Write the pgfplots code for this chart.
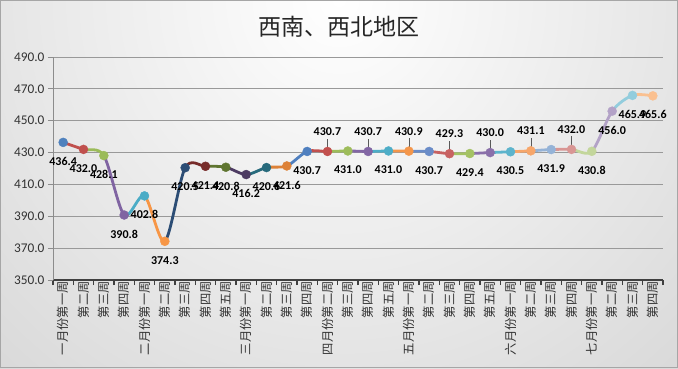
\documentclass[border=0pt]{standalone}
\usepackage{pgfplots}
\pgfplotsset{compat=1.18}
\usepackage{pgfplotstable}
\usepackage{fontspec}
\setmainfont{Carlito}
\newfontfamily\cjk{Noto Sans CJK SC}

\definecolor{c1}{HTML}{4F81BD}
\definecolor{c2}{HTML}{C0504D}
\definecolor{c3}{HTML}{9BBB59}
\definecolor{c4}{HTML}{8064A2}
\definecolor{c5}{HTML}{4BACC6}
\definecolor{c6}{HTML}{F79646}
\definecolor{c7}{HTML}{2C4D75}
\definecolor{c8}{HTML}{772C2A}
\definecolor{c9}{HTML}{5F7530}
\definecolor{c10}{HTML}{4D3B62}
\definecolor{c11}{HTML}{276A7C}
\definecolor{c12}{HTML}{DD8238}
\definecolor{c13}{HTML}{4F7FBF}
\definecolor{c14}{HTML}{C2504E}
\definecolor{c15}{HTML}{9DBC5A}
\definecolor{c16}{HTML}{8266A4}
\definecolor{c17}{HTML}{4DADC7}
\definecolor{c18}{HTML}{F4964A}
\definecolor{c19}{HTML}{6A8CC8}
\definecolor{c20}{HTML}{C86262}
\definecolor{c21}{HTML}{A4C264}
\definecolor{c22}{HTML}{8A70AA}
\definecolor{c23}{HTML}{5DB4CC}
\definecolor{c24}{HTML}{F7A66A}
\definecolor{c25}{HTML}{95B3D7}
\definecolor{c26}{HTML}{D99694}
\definecolor{c27}{HTML}{C3D69B}
\definecolor{c28}{HTML}{B3A2C7}
\definecolor{c29}{HTML}{93CDDD}
\definecolor{c30}{HTML}{FAC090}
\definecolor{bgout}{RGB}{195,195,195}

\pgfplotstableread{
x y
1 436.4
2 432.0
3 428.1
4 390.8
5 402.8
6 374.3
7 420.5
8 421.4
9 420.8
10 416.2
11 420.6
12 421.6
13 430.7
14 430.7
15 431.0
16 430.7
17 431.0
18 430.9
19 430.7
20 429.3
21 429.4
22 430.0
23 430.5
24 431.1
25 431.9
26 432.0
27 430.8
28 456.0
29 465.9
30 465.6
}\datatable

\newcommand{\seg}[3]{%
  \begin{scope}
    \clip (axis cs:#1,300) rectangle (axis cs:#2,520);
    \addplot[draw=#3, line width=2.8pt, smooth, mark=none] table[x=x,y=y] {\datatable};
  \end{scope}}
\newcommand{\mk}[3]{%
  \addplot[only marks, mark=*, mark size=4.5pt, color=#3, mark options={draw=#3, fill=#3}] coordinates {(#1,#2)};}

\begin{document}
\begin{tikzpicture}
\useasboundingbox (0,0) rectangle (678pt,368pt);
\begin{scope}
  \clip (0,0) rectangle (678pt,368pt);
  \fill[bgout] (0,0) rectangle (678pt,368pt);
  \shade[inner color=white, outer color=bgout] (339pt,368pt) circle (800pt);
\end{scope}
\draw[gray!70, line width=0.8pt] (0.4pt,0.4pt) rectangle (677.6pt,367.6pt);
\node[font=\cjk\fontsize{23}{23}\selectfont, text=black!85] at (339pt,341pt) {西南、西北地区};

\begin{axis}[
  at={(53pt,88pt)}, anchor=south west,
  scale only axis, width=610pt, height=223pt,
  xmin=0.5, xmax=30.5, ymin=350, ymax=490,
  axis x line*=bottom, axis y line*=left,
  x axis line style={draw=black!75, line width=2.4pt},
  y axis line style={draw=black!45, line width=0.9pt},
  ytick={350,370,...,490},
  ymajorgrids, grid style={draw=black!40, line width=0.8pt},
  /pgf/number format/assume math mode=true,
  yticklabel style={font=\fontsize{13.3}{14}\selectfont, text=black!80,
    /pgf/number format/.cd, fixed, fixed zerofill, precision=1},
  ytick style={draw=black!45, line width=0.9pt},
  tick align=outside, major tick length=5pt,
  xtick={0.5,1.5,...,30.5}, xticklabels={},
  xtick style={draw=black!75, line width=1.6pt},
  extra x ticks={1,2,...,30},
  extra x tick style={major tick length=0pt, grid=none,
    tick label style={rotate=90, anchor=east, font=\cjk\fontsize{12.3}{12.3}\selectfont, text=black!80, inner sep=1pt}},
  extra x tick labels={一月份第一周,第二周,第三周,第四周,二月份第一周,第二周,第三周,第四周,第五周,三月份第一周,第二周,第三周,第四周,四月份第二周,第三周,第四周,第五周,五月份第一周,第二周,第三周,第四周,第五周,六月份第一周,第二周,第三周,第四周,七月份第一周,第二周,第三周,第四周},
]
\seg{1}{2}{c2}
\seg{2}{3}{c3}
\seg{3}{4}{c4}
\seg{4}{5}{c5}
\seg{5}{6}{c6}
\seg{6}{7}{c7}
\seg{7}{8}{c8}
\seg{8}{9}{c9}
\seg{9}{10}{c10}
\seg{10}{11}{c11}
\seg{11}{12}{c12}
\seg{12}{13}{c13}
\seg{13}{14}{c14}
\seg{14}{15}{c15}
\seg{15}{16}{c16}
\seg{16}{17}{c17}
\seg{17}{18}{c18}
\seg{18}{19}{c19}
\seg{19}{20}{c20}
\seg{20}{21}{c21}
\seg{21}{22}{c22}
\seg{22}{23}{c23}
\seg{23}{24}{c24}
\seg{24}{25}{c25}
\seg{25}{26}{c26}
\seg{26}{27}{c27}
\seg{27}{28}{c28}
\seg{28}{29}{c29}
\seg{29}{30}{c30}
\mk{1}{436.4}{c1}
\mk{2}{432.0}{c2}
\mk{3}{428.1}{c3}
\mk{4}{390.8}{c4}
\mk{5}{402.8}{c5}
\mk{6}{374.3}{c6}
\mk{7}{420.5}{c7}
\mk{8}{421.4}{c8}
\mk{9}{420.8}{c9}
\mk{10}{416.2}{c10}
\mk{11}{420.6}{c11}
\mk{12}{421.6}{c12}
\mk{13}{430.7}{c13}
\mk{14}{430.7}{c14}
\mk{15}{431.0}{c15}
\mk{16}{430.7}{c16}
\mk{17}{431.0}{c17}
\mk{18}{430.9}{c18}
\mk{19}{430.7}{c19}
\mk{20}{429.3}{c20}
\mk{21}{429.4}{c21}
\mk{22}{430.0}{c22}
\mk{23}{430.5}{c23}
\mk{24}{431.1}{c24}
\mk{25}{431.9}{c25}
\mk{26}{432.0}{c26}
\mk{27}{430.8}{c27}
\mk{28}{456.0}{c28}
\mk{29}{465.9}{c29}
\mk{30}{465.6}{c30}
% labels below
\addplot[draw=none, mark=none, nodes near coords={\pgfmathprintnumber[fixed,fixed zerofill,precision=1]{\pgfplotspointmeta}},
  every node near coord/.append style={anchor=center, yshift=-19pt, font=\bfseries\fontsize{12}{12}\selectfont, text=black, inner sep=0pt}]
  coordinates {(1,436.4) (2,432.0) (3,428.1) (4,390.8) (5,402.8) (6,374.3) (7,420.5) (8,421.4) (9,420.8) (10,416.2) (11,420.6) (12,421.6) (13,430.7) (15,431.0) (17,431.0) (19,430.7) (21,429.4) (23,430.5) (25,431.9) (27,430.8) (28,456.0) (29,465.9) (30,465.6)};
% labels above
\addplot[draw=none, mark=none, nodes near coords={\pgfmathprintnumber[fixed,fixed zerofill,precision=1]{\pgfplotspointmeta}},
  every node near coord/.append style={anchor=center, yshift=20pt, font=\bfseries\fontsize{12}{12}\selectfont, text=black, inner sep=0pt}]
  coordinates {(14,430.7) (16,430.7) (18,430.9) (20,429.3) (22,430.0) (24,431.1) (26,432.0)};
% leader lines
\addplot[draw=none, mark=none, error bars/.cd, y dir=plus, y explicit, error mark=none,
  error bar style={draw=black!65, line width=0.6pt}]
  coordinates {(14,433.2) += (0,5.6) (16,433.2) += (0,5.6) (18,433.4) += (0,5.6) (20,431.8) += (0,5.6) (22,432.5) += (0,5.6) (24,433.6) += (0,5.6) (26,434.5) += (0,5.6)};
\end{axis}
\end{tikzpicture}
\end{document}
